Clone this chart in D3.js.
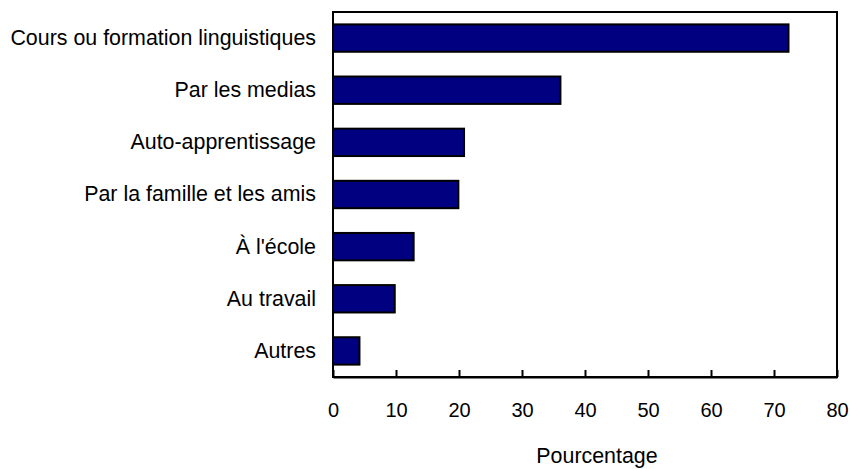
<!DOCTYPE html>
<html>
<head>
<meta charset="utf-8">
<script src="https://cdn.jsdelivr.net/npm/d3@7"></script>
<style>
    body { margin: 0; background: #fff; }
    text { font-family: "Liberation Sans", Arial, Helvetica, sans-serif; fill: #000; }
</style>
</head>
<body>
<div id="chart"></div>
<script>
const categories = [
    'Cours ou formation linguistiques',
    'Par les medias',
    'Auto-apprentissage',
    'Par la famille et les amis',
    "À l'école",
    'Au travail',
    'Autres'
];
const values = [72.3, 36.1, 20.8, 19.9, 12.8, 9.8, 4.2];
const xTicks = [0, 10, 20, 30, 40, 50, 60, 70, 80];
const xTitle = 'Pourcentage';

const width = 850;
const height = 469;
const plot = { left: 333, right: 837, top: 12, bottom: 377 };

const svg = d3.select('#chart')
    .append('svg')
    .attr('width', width)
    .attr('height', height);

const x = d3.scaleLinear()
    .domain([0, 80])
    .range([plot.left, plot.right]);

const y = d3.scaleBand()
    .domain(categories)
    .range([plot.top, plot.bottom])
    .paddingInner(0.475)
    .paddingOuter(0.2375);

const rows = categories.map((c, i) => ({ label: c, value: values[i] }));

// bars
svg.append('g')
    .selectAll('rect')
    .data(rows)
    .join('rect')
    .attr('x', x(0))
    .attr('y', d => y(d.label))
    .attr('width', d => x(d.value) - x(0))
    .attr('height', y.bandwidth())
    .attr('fill', '#000080')
    .attr('stroke', '#000')
    .attr('stroke-width', 2);

// frame round the plot
svg.append('rect')
    .attr('x', plot.left)
    .attr('y', plot.top)
    .attr('width', plot.right - plot.left)
    .attr('height', plot.bottom - plot.top)
    .attr('fill', 'none')
    .attr('stroke', '#000')
    .attr('stroke-width', 2);

// x axis, ticks pointing inward
const xAxis = d3.axisBottom(x)
    .tickValues(xTicks)
    .tickSizeInner(-7)
    .tickSizeOuter(0)
    .tickPadding(26);

const gx = svg.append('g')
    .attr('transform', `translate(0,${plot.bottom})`)
    .call(xAxis);
gx.select('.domain').attr('stroke', '#000').attr('stroke-width', 2);
gx.selectAll('.tick line').attr('stroke', '#000').attr('stroke-width', 2);
gx.selectAll('.tick text')
    .attr('font-size', 20)
    .attr('font-family', '"Liberation Sans", Arial, sans-serif')
    .attr('fill', '#000');

// category labels
const yAxis = d3.axisLeft(y)
    .tickSize(0)
    .tickPadding(17);

const gy = svg.append('g')
    .attr('transform', `translate(${plot.left},0)`)
    .call(yAxis);
gy.select('.domain').remove();
gy.selectAll('.tick text')
    .attr('font-size', 21.4)
    .attr('font-family', '"Liberation Sans", Arial, sans-serif')
    .attr('fill', '#000');

// axis title
svg.append('text')
    .attr('x', 597)
    .attr('y', 463)
    .attr('text-anchor', 'middle')
    .attr('font-size', 21.4)
    .text(xTitle);
</script>
</body>
</html>
